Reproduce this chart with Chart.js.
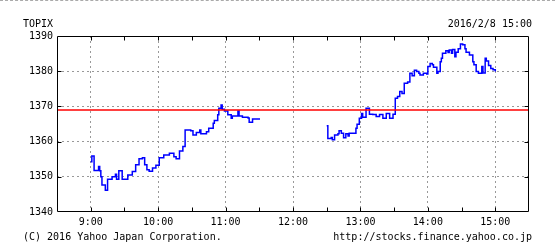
<!DOCTYPE html>
<html>
<head>
<meta charset="utf-8">
<script src="https://cdn.jsdelivr.net/npm/chart.js@4.4.1/dist/chart.umd.min.js"></script>
<style>
  body { margin: 0; background: #fff; }
  #wrap { position: relative; width: 555px; height: 252px; border-top: 1px dashed #aaa; box-sizing: border-box; }
  #wrap canvas { position: absolute; left: 0; top: -1px; }
  .txt { position: absolute; font: 10px 'DejaVu Sans Mono', monospace; color: #000; white-space: pre; line-height: 12px; }
</style>
</head>
<body>
<div id="wrap">
  <canvas id="myChart" width="555" height="252"></canvas>
  <div class="txt" style="left:23px; top:17px;">TOPIX</div>
  <div class="txt" style="right:23px; top:17px;">2016/2/8 15:00</div>
  <div class="txt" style="left:23px; top:230px;">(C) 2016 Yahoo Japan Corporation.</div>
  <div class="txt" style="right:23px; top:230px;">http://stocks.finance.yahoo.co.jp</div>
</div>
<script>
// 前場 / 後場 (minute where the price moves to the value)
const morningTimes = ['9:00','9:01','9:03','9:07','9:08','9:09','9:10','9:13','9:15','9:19','9:22','9:23','9:25','9:28','9:33','9:37','9:40','9:43','9:46','9:48','9:50','9:52','9:55','9:58','10:01','10:05','10:10','10:14','10:16','10:19','10:22','10:24','10:29','10:31','10:34','10:37','10:38','10:43','10:45','10:49','10:50','10:53','10:54','10:56','10:57','10:59','11:02','11:05','11:06','11:11','11:12','11:15','11:20','11:21','11:24','11:30'];
const morningValues = [1354.3,1355.9,1351.8,1352.9,1351.7,1350.0,1347.7,1346.2,1349.3,1350.0,1350.7,1349.3,1351.7,1349.3,1350.5,1351.5,1353.4,1355.1,1355.4,1353.4,1352.0,1351.6,1352.5,1353.3,1355.4,1356.2,1356.7,1355.7,1355.1,1357.3,1358.6,1363.3,1363.1,1361.9,1362.6,1363.3,1362.2,1362.8,1363.8,1365.2,1366.0,1367.6,1369.5,1370.4,1369.2,1368.7,1367.6,1366.6,1367.3,1368.7,1367.3,1366.9,1366.7,1365.5,1366.4,1366.2];
const afternoonTimes = ['12:30','12:31','12:34','12:35','12:37','12:40','12:41','12:43','12:45','12:47','12:49','12:50','12:56','12:57','12:59','13:01','13:02','13:05','13:08','13:11','13:14','13:17','13:20','13:23','13:26','13:29','13:31','13:33','13:35','13:37','13:39','13:42','13:44','13:46','13:48','13:50','13:52','13:53','13:56','13:59','14:00','14:02','14:04','14:05','14:08','14:09','14:11','14:12','14:13','14:16','14:18','14:19','14:21','14:22','14:24','14:25','14:27','14:29','14:31','14:33','14:34','14:37','14:40','14:41','14:43','14:45','14:48','14:49','14:51','14:52','14:54','14:56','14:58','15:00'];
const afternoonValues = [1364.5,1360.9,1361.2,1360.5,1361.9,1362.2,1363.1,1362.4,1361.1,1362.2,1361.6,1362.4,1363.8,1364.9,1366.6,1368.0,1366.9,1369.5,1367.8,1367.7,1367.1,1367.7,1366.6,1368.0,1366.6,1367.8,1372.3,1372.8,1374.2,1373.7,1376.6,1376.9,1379.4,1378.7,1380.3,1379.9,1379.4,1378.9,1379.4,1379.2,1381.3,1382.2,1381.8,1381.1,1379.4,1379.9,1382.7,1383.7,1385.1,1385.8,1385.3,1386.0,1385.1,1386.2,1384.1,1385.4,1386.4,1387.7,1387.5,1386.4,1385.4,1384.6,1382.7,1381.8,1379.9,1379.4,1381.3,1379.5,1383.7,1382.9,1381.6,1380.8,1380.4,1379.9];
const prevClose = 1369.0;
const hourLabels = ['9:00','10:00','11:00','12:00','13:00','14:00','15:00'];
const yTicks = [1340,1350,1360,1370,1380,1390];

const toMin = (t) => { const p = t.split(':'); return +p[0] * 60 + +p[1]; };
const toPoints = (times, vals) => times.map((t, i) => ({x: toMin(t), y: vals[i]}));
const xMin = toMin('8:30'), xMax = toMin('15:30');

Chart.defaults.font.family = "'DejaVu Sans Mono', monospace";
Chart.defaults.font.size = 10;
Chart.defaults.color = '#000';

//marco y marcas interiores
const frame = {
  id: 'frame',
  afterDraw(chart) {
    const {ctx, chartArea: a, scales} = chart;
    const L = Math.round(a.left) + 0.5, R = Math.round(a.right) - 0.5;
    const T = Math.round(a.top) + 0.5, B = Math.round(a.bottom) - 0.5;
    ctx.save();
    ctx.strokeStyle = '#000';
    ctx.lineWidth = 1;
    ctx.beginPath();
    ctx.rect(L, T, R - L, B - T);
    for (let m = xMin + 30; m < xMax; m += 30) {
      const x = Math.round(scales.x.getPixelForValue(m)) + 0.5;
      ctx.moveTo(x, T); ctx.lineTo(x, T + 4);
      ctx.moveTo(x, B); ctx.lineTo(x, B - 4);
    }
    yTicks.slice(1, -1).forEach(v => {
      const y = Math.round(scales.y.getPixelForValue(v)) + 0.5;
      ctx.moveTo(L, y); ctx.lineTo(L + 4, y);
      ctx.moveTo(R, y); ctx.lineTo(R - 4, y);
    });
    ctx.stroke();
    ctx.restore();
  }
};

const lineStyle = {
  borderColor: '#0000ff',
  borderWidth: 1.5,
  pointRadius: 0,
  stepped: 'before',
  fill: false,
};

const ctx = document.getElementById('myChart');
const myChart = new Chart(ctx, {
  type: 'line',
  data: {
    datasets: [
      {label: 'prev', data: [{x: xMin, y: prevClose}, {x: xMax, y: prevClose}], borderColor: '#ff0000', borderWidth: 1.5, pointRadius: 0},
      Object.assign({label: 'am', data: toPoints(morningTimes, morningValues)}, lineStyle),
      Object.assign({label: 'pm', data: toPoints(afternoonTimes, afternoonValues)}, lineStyle),
    ],
  },
  options: {
    responsive: false,
    animation: false,
    events: [],
    layout: {padding: {top: 36, right: 26, left: 0, bottom: 0}},
    plugins: {legend: {display: false}, tooltip: {enabled: false}},
    scales: {
      x: {
        type: 'linear',
        min: xMin,
        max: xMax,
        afterBuildTicks: (s) => { s.ticks = []; for (let m = xMin; m <= xMax; m += 30) s.ticks.push({value: m}); },
        afterFit: (s) => { s.height = 40; },
        ticks: {
          padding: 4,
          autoSkip: false,
          maxRotation: 0,
          callback: (v) => {
            const lab = Math.floor(v / 60) + ':00';
            return v % 60 === 0 && hourLabels.includes(lab) ? lab : '';
          },
        },
        grid: {
          drawTicks: false,
          color: (c) => (c.tick && c.tick.value % 60 === 0 ? '#999' : 'rgba(0,0,0,0)'),
        },
        border: {display: false, dash: [2, 3]},
      },
      y: {
        min: 1340,
        max: 1390,
        afterBuildTicks: (s) => { s.ticks = yTicks.map(v => ({value: v})); },
        afterFit: (s) => { s.width = 57; },
        ticks: {padding: 4, callback: (v) => String(v)},
        grid: {
          drawTicks: false,
          color: (c) => (c.tick && c.tick.value > 1340 && c.tick.value < 1390 ? '#999' : 'rgba(0,0,0,0)'),
        },
        border: {display: false, dash: [2, 3]},
      },
    },
  },
  plugins: [frame],
});
</script>
</body>
</html>
